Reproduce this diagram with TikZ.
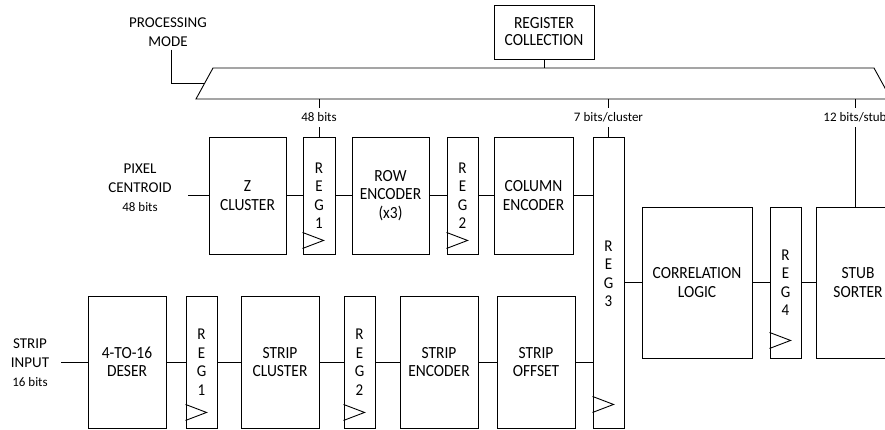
\documentclass[tikz,border=0pt]{standalone}
\usepackage{fontspec}
\newfontfamily\lblfont{Carlito}
\newfontfamily\boxfont[FakeStretch=0.91]{Carlito}
\newcommand\clk[2]{\draw[ln] ([yshift=#2pt]#1.south west) -- ++(21,-8) -- ++(-21,-8);}
\begin{document}
\begin{tikzpicture}[x=1pt,y=-1pt,
  ln/.style={line width=0.9pt},
  blk/.style={draw, line width=0.9pt, inner sep=0pt, align=center, font=\boxfont\fontsize{17}{18.5}\selectfont},
  reg/.style={draw, line width=0.9pt, inner sep=0pt},
  regtxt/.style={inner sep=0pt, align=center, font=\boxfont\fontsize{16.5}{18.5}\selectfont},
  lbl/.style={inner sep=0pt, align=center, font=\lblfont\fontsize{15}{19}\selectfont},
  bits/.style={inner sep=0pt, minimum height=19pt, font=\lblfont\fontsize{13}{15}\selectfont},
]
\useasboundingbox (0,0) rectangle (885,430);

% top
\node[lbl] (pm) at (168,32) {PROCESSING\\MODE};
\node[blk, minimum width=100pt, minimum height=54pt, font=\boxfont\fontsize{17}{17}\selectfont] (rc) at (544,32) {REGISTER\\COLLECTION};
\draw[ln] (213,68) -- (874,68) -- (891,99) -- (196,99) -- cycle;
\coordinate (pmc) at (171,83);
\coordinate (bl) at (204.8,83);
\coordinate (bt) at (544,68);
\draw[ln] ([yshift=-3pt]pmc |- pm.south) -- (pmc) -- (bl);
\draw[ln] (rc.south) -- (bt);

% pixel row
\node[lbl] (pix) at (140,188) {PIXEL\\CENTROID\\{\fontsize{13}{19}\selectfont 48 bits}};
\node[blk, minimum width=77pt, minimum height=117pt] (zc) at (247.5,195.5) {Z\\CLUSTER};
\node[reg, minimum width=32pt, minimum height=117pt] (r1p) at (319,195.5) {};
\node[blk, minimum width=77pt, minimum height=117pt] (row) at (390.5,195.5) {ROW\\ENCODER\\(x3)};
\node[reg, minimum width=31pt, minimum height=117pt] (r2p) at (462.5,195.5) {};
\node[blk, minimum width=79pt, minimum height=117pt] (col) at (533.5,195.5) {COLUMN\\ENCODER};
\node[reg, minimum width=31pt, minimum height=291pt] (r3) at (608.5,282.5) {};
\node[regtxt] (r1pt) at (319,195.5) {R\\E\\G\\1};
\node[regtxt] (r2pt) at (462.5,195.5) {R\\E\\G\\2};
\node[regtxt] (r3t) at (608.5,274) {R\\E\\G\\3};

% strip row
\node[lbl] (sin) at (30,362.5) {STRIP\\INPUT\\{\fontsize{13}{19}\selectfont 16 bits}};
\node[blk, minimum width=78pt, minimum height=132pt] (des) at (127,362) {4-TO-16\\DESER};
\node[reg, minimum width=31pt, minimum height=132pt] (r1s) at (201.5,362) {};
\node[blk, minimum width=78pt, minimum height=132pt] (sc) at (280,362) {STRIP\\CLUSTER};
\node[reg, minimum width=31pt, minimum height=132pt] (r2s) at (359.5,362) {};
\node[blk, minimum width=78pt, minimum height=132pt] (se) at (439,362) {STRIP\\ENCODER};
\node[blk, minimum width=78pt, minimum height=132pt] (so) at (536,362) {STRIP\\OFFSET};
\node[regtxt] (r1st) at (201.5,362) {R\\E\\G\\1};
\node[regtxt] (r2st) at (359.5,362) {R\\E\\G\\2};

% right part
\node[blk, minimum width=110pt, minimum height=151pt] (cor) at (697,282.5) {CORRELATION\\LOGIC};
\node[reg, minimum width=31pt, minimum height=151pt] (r4) at (785.5,282.5) {};
\node[regtxt] (r4t) at (785.5,282.5) {R\\E\\G\\4};
\node[blk, minimum width=84pt, minimum height=151pt] (stub) at (858,282.5) {STUB\\SORTER};

% clocks
\clk{r1p}{6}
\clk{r2p}{6}
\clk{r1s}{8}
\clk{r2s}{8}
\clk{r3}{16}
\clk{r4}{10}

% data connections
\coordinate (pin) at (188,195.5);
\coordinate (sinc) at (61,362);
\draw[ln] (pin) -- (zc.west);
\draw[ln] (zc.east) -- (r1p.west);
\draw[ln] (r1p.east) -- (row.west);
\draw[ln] (row.east) -- (r2p.west);
\draw[ln] (r2p.east) -- (col.west);
\draw[ln] (col.east) -- (col.east -| r3.west);
\draw[ln] (sinc) -- (des.west);
\draw[ln] (des.east) -- (r1s.west);
\draw[ln] (r1s.east) -- (sc.west);
\draw[ln] (sc.east) -- (r2s.west);
\draw[ln] (r2s.east) -- (se.west);
\draw[ln] (se.east) -- (so.west);
\draw[ln] (so.east) -- (so.east -| r3.west);
\draw[ln] (r3.east) -- (cor.west);
\draw[ln] (cor.east) -- (r4.west);
\draw[ln] (r4.east) -- (stub.west);

% bus taps
\node[bits] (b48) at (319,117.5) {48 bits};
\node[bits] (b7) at (608.5,117.5) {7 bits/cluster};
\node[bits] (b12) at (855,117.5) {12 bits/stub};
\coordinate (t48) at (319,99);
\coordinate (t7) at (608.5,99);
\coordinate (t12) at (855,99);
\draw[ln] (t48) -- (b48.north);
\draw[ln] (b48.south) -- (r1p.north);
\draw[ln] (t7) -- (b7.north);
\draw[ln] (b7.south) -- (r3.north);
\draw[ln] (t12) -- (b12.north);
\draw[ln] (b12.south) -- (b12.south |- stub.north);
\end{tikzpicture}
\end{document}
